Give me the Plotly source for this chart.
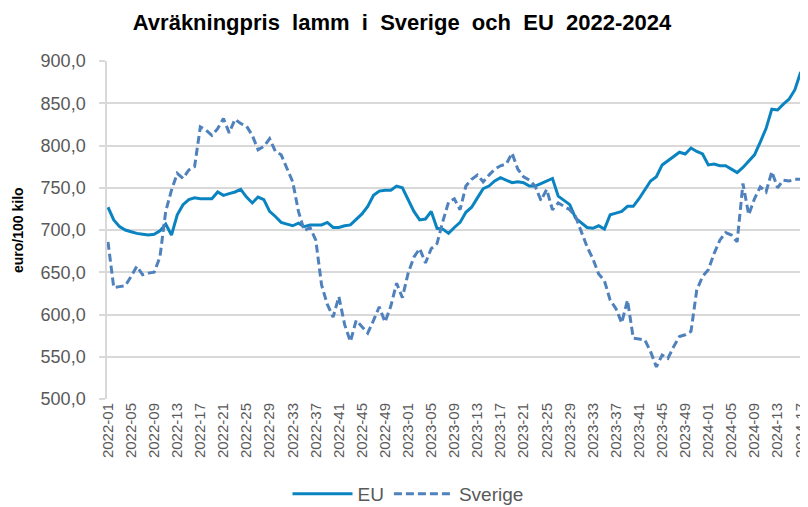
import plotly.graph_objects as go

# Week labels 2022-01 .. 2024-17 (121 weeks)
weeks = [f"2022-{w:02d}" for w in range(1, 53)] + \
        [f"2023-{w:02d}" for w in range(1, 53)] + \
        [f"2024-{w:02d}" for w in range(1, 18)]
tick_weeks = weeks[::4]

eu = [727, 712, 704, 700, 698, 696, 695, 694, 695, 699,
      707, 694, 718, 730, 736, 738, 737, 737, 737, 745,
      741, 743, 745, 748, 739, 732, 739, 736, 722, 716,
      709, 707, 705, 708, 704, 706, 706, 706, 709, 703,
      703, 705, 706, 713, 719, 728, 741, 746, 747, 747,
      752, 750, 735, 722, 712, 713, 722, 702, 701, 696,
      703, 709, 721, 727, 738, 749, 752, 758, 762, 759,
      756, 757, 756, 752, 752, 755, 758, 761, 740, 735,
      730, 714, 708, 703, 702, 705, 701, 718, 720, 722,
      728, 728, 737, 747, 758, 763, 777, 782, 787, 792,
      790, 797, 793, 790, 777, 778, 776, 776, 772, 768,
      774, 781, 789, 804, 820, 843, 842, 849, 855, 866,
      887]

sverige = [686, 632, 633, 634, 645, 657, 647, 649, 650, 668,
           722, 747, 767, 761, 771, 775, 822, 818, 812, 820,
           832, 815, 831, 826, 823, 812, 795, 799, 808, 793,
           789, 773, 757, 722, 699, 703, 688, 635, 612, 597,
           621, 588, 568, 593, 586, 578, 593, 609, 591, 610,
           637, 620, 649, 668, 678, 661, 678, 684, 710, 733,
           737, 724, 752, 760, 765, 757, 765, 772, 776, 778,
           791, 772, 763, 759, 752, 735, 748, 724, 732, 728,
           724, 716, 698, 680, 666, 648, 640, 617, 607, 590,
           617, 572, 571, 570, 556, 538, 552, 548, 562, 574,
           576, 580, 629, 645, 653, 672, 688, 697, 694, 686,
           755, 718, 737, 751, 745, 769, 750, 759, 758, 760,
           760]

y_ticks = [500, 550, 600, 650, 700, 750, 800, 850, 900]
y_ticktext = [f"{v},0" for v in y_ticks]

FONT = "Liberation Sans, Arial, sans-serif"
GRAY = "#595959"

# The page body has an 8px margin, so the figure is sized to fill the
# remaining 800x499 of the 808x507 window.
W, H = 800, 499
L, R, T, B = 99, 3, 53, 108

fig = go.Figure()
fig.add_trace(go.Scatter(x=weeks, y=eu, name="EU", mode="lines",
                         line=dict(color="#0A84C1", width=3)))
fig.add_trace(go.Scatter(x=weeks, y=sverige, name="Sverige", mode="lines",
                         line=dict(color="#4F81BD", width=3, dash="8px,4px")))

fig.update_layout(
    width=W, height=H,
    margin=dict(l=L, r=R, t=T, b=B, autoexpand=False),
    paper_bgcolor="white", plot_bgcolor="white",
    font=dict(family=FONT, color=GRAY),
    title=dict(text="<b>Avräkningpris  lamm  i  Sverige  och  EU  2022-2024</b>",
               x=394 / W, xanchor="center", xref="container",
               y=1 - 14 / H, yanchor="middle", yref="container",
               font=dict(family=FONT, size=22, color="#000000")),
    legend=dict(orientation="h", xref="container", yref="container",
                x=400 / W, xanchor="center", y=13 / H, yanchor="middle",
                font=dict(family=FONT, size=19, color=GRAY),
                itemwidth=60, traceorder="normal"),
    showlegend=True,
)

fig.update_xaxes(
    type="category", categoryorder="array", categoryarray=weeks,
    range=[-0.17, 120.75], automargin=False,
    tickmode="array", tickvals=tick_weeks, ticktext=tick_weeks,
    tickangle=-90, tickfont=dict(family=FONT, size=15, color=GRAY),
    showgrid=False, zeroline=False, showline=False, ticks="",
)
fig.update_yaxes(
    range=[500, 900], automargin=False,
    tickmode="array", tickvals=y_ticks, ticktext=y_ticktext,
    tickfont=dict(family=FONT, size=18, color=GRAY),
    ticklabelstandoff=10,
    showgrid=True, gridcolor="#D9D9D9", gridwidth=1.5,
    zeroline=False, showline=True, linecolor="#D9D9D9", linewidth=1.5,
    ticks="outside", ticklen=6, tickcolor="#D9D9D9", tickwidth=1.5,
)

plot_w = W - L - R
fig.add_annotation(text="<b>euro/100 kilo</b>", textangle=-90,
                   xref="paper", yref="paper",
                   x=(10 - L) / plot_w, y=0.5, xanchor="center", yanchor="middle",
                   showarrow=False, font=dict(family=FONT, size=14, color="#000000"))

fig.write_html("out.html")
